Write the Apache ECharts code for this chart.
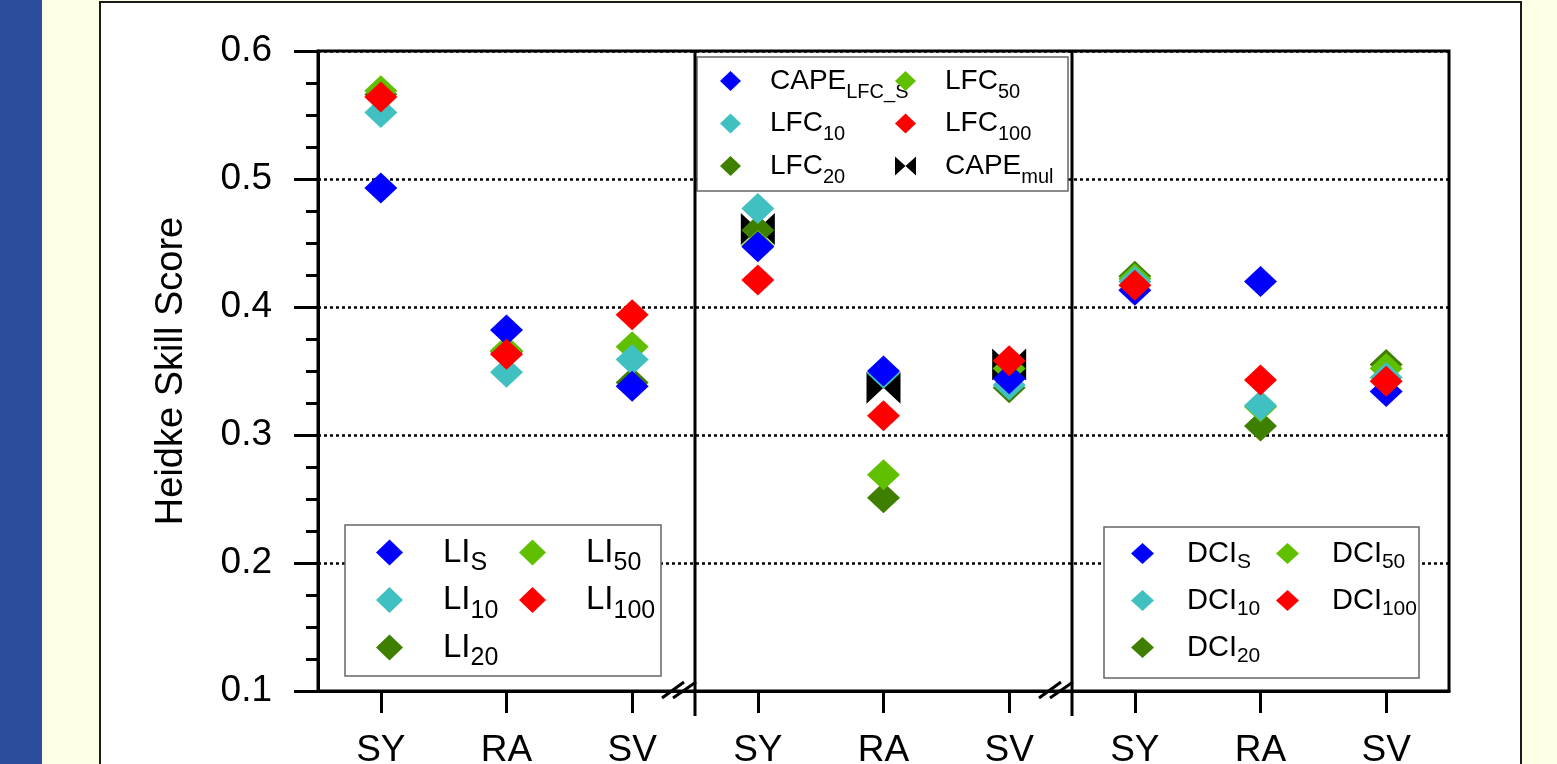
<!DOCTYPE html>
<html><head><meta charset="utf-8">
<script src="https://cdn.jsdelivr.net/npm/echarts@6/dist/echarts.min.js"></script>
<style>
html,body{margin:0;padding:0;width:1557px;height:764px;overflow:hidden;background:#FFFFE6;}
#bar{position:absolute;left:0;top:0;width:42px;height:764px;background:#2C4C9C;}
#panel{position:absolute;left:99px;top:1px;width:1419px;height:800px;background:#fff;border:2px solid #1a1a1a;}
#chart{position:absolute;left:0;top:0;width:1557px;height:764px;}
</style></head><body>
<div id="bar"></div><div id="panel"></div><div id="chart"></div>
<script>
// ---- data ----
const categories = ['SY', 'RA', 'SV'];
const groupNames = ['LI', 'LFC', 'DCI'];
const yMin = 0.1, yMax = 0.6, yStep = 0.1;
const yAxisName = 'Heidke Skill Score';

// LI group
const LI_S   = [0.493, 0.382, 0.338];
const LI_10  = [0.552, 0.349, 0.359];
const LI_20  = [0.566, 0.365, 0.341];
const LI_50  = [0.569, 0.366, 0.369];
const LI_100 = [0.564, 0.363, 0.394];
// LFC group
const CAPE_LFC_S = [0.447, 0.350, 0.344];
const LFC_10  = [0.477, 0.348, 0.339];
const LFC_20  = [0.460, 0.251, 0.337];
const LFC_50  = [0.448, 0.269, 0.352];
const LFC_100 = [0.421, 0.315, 0.358];
const CAPE_mul = [0.461, 0.337, 0.355];
// DCI group
const DCI_S   = [0.413, 0.420, 0.334];
const DCI_10  = [0.420, 0.323, 0.345];
const DCI_20  = [0.424, 0.307, 0.355];
const DCI_50  = [0.422, 0.322, 0.352];
const DCI_100 = [0.417, 0.343, 0.342];

// ---- styles ----
const C = { S: '#0000FF', d10: '#41C0C2', d20: '#3F7F00', d50: '#60C000', d100: '#FF0000', mul: '#000000' };
const FONT = 'Liberation Sans, Arial, sans-serif';
const bowtie = 'path://M0,0L0,32L17,16ZM34,0L34,32L17,16Z';
const bowtieIcon = 'path://M0,0L0,18L10,9ZM20,0L20,18L10,9Z';

// drawing order (later = on top)
const seriesDefs = [
  { name: 'CAPE_mul', g: 1, v: CAPE_mul, c: C.mul, sym: bowtie, size: [34, 32] },
  { name: 'LI_20', g: 0, v: LI_20, c: C.d20 },
  { name: 'LFC_20', g: 1, v: LFC_20, c: C.d20 },
  { name: 'DCI_20', g: 2, v: DCI_20, c: C.d20 },
  { name: 'LI_50', g: 0, v: LI_50, c: C.d50 },
  { name: 'LFC_50', g: 1, v: LFC_50, c: C.d50 },
  { name: 'DCI_50', g: 2, v: DCI_50, c: C.d50 },
  { name: 'LI_10', g: 0, v: LI_10, c: C.d10 },
  { name: 'LFC_10', g: 1, v: LFC_10, c: C.d10 },
  { name: 'DCI_10', g: 2, v: DCI_10, c: C.d10 },
  { name: 'LI_S', g: 0, v: LI_S, c: C.S },
  { name: 'CAPE_LFC_S', g: 1, v: CAPE_LFC_S, c: C.S },
  { name: 'DCI_S', g: 2, v: DCI_S, c: C.S },
  { name: 'LI_100', g: 0, v: LI_100, c: C.d100 },
  { name: 'LFC_100', g: 1, v: LFC_100, c: C.d100 },
  { name: 'DCI_100', g: 2, v: DCI_100, c: C.d100 }
];

const nCat = categories.length;
const xLabels = [];
groupNames.forEach(() => categories.forEach(c => xLabels.push(c)));
const boundaries = [];
for (let g = 1; g < groupNames.length; g++) boundaries.push(g * nCat);

const series = seriesDefs.map(d => ({
  name: d.name,
  type: 'scatter',
  xAxisIndex: 0, yAxisIndex: 0,
  symbol: d.sym || 'diamond',
  symbolSize: d.size || [33, 31],
  symbolKeepAspect: false,
  itemStyle: { color: d.c, opacity: 1 },
  emphasis: { disabled: true },
  z: 2,
  data: d.v.map((val, i) => [d.g * nCat + i, val])
}));

series.push({
  type: 'custom',
  xAxisIndex: 1, yAxisIndex: 0,
  silent: true, z: 3,
  data: boundaries.map(b => [b, yMin]),
  renderItem: function (params, api) {
    const b = api.value(0);
    const top = api.coord([b, yMax]);
    const bot = api.coord([b, yMin]);
    const x = bot[0], ay = bot[1];
    const st = { stroke: '#000', lineWidth: 3 };
    return { type: 'group', children: [
      { type: 'line', shape: { x1: x, y1: top[1], x2: x, y2: ay + 25 }, style: st },
      { type: 'line', shape: { x1: x - 33, y1: ay + 7, x2: x - 11, y2: ay - 9 }, style: st },
      { type: 'line', shape: { x1: x - 22, y1: ay + 7, x2: x + 1, y2: ay - 9 }, style: st }
    ]};
  }
});

function fmt(name) {
  const k = name.indexOf('_');
  return '{sp| }{m|' + name.slice(0, k) + '}{s|' + name.slice(k + 1) + '}';
}
function legend(names, left, top, iw, ih, gap, sp, mf, sf, pad) {
  return {
    orient: 'vertical', left: left, top: top, padding: 0,
    itemWidth: iw, itemHeight: ih, itemGap: gap,
    selectedMode: false,
    data: names.map(n => ({ name: n, icon: n === 'CAPE_mul' ? bowtieIcon : 'diamond' })),
    formatter: fmt,
    textStyle: {
      color: '#000', fontFamily: FONT,
      rich: {
        sp: { width: sp, fontSize: mf, fontFamily: FONT },
        m: { fontSize: mf, color: '#000', fontFamily: FONT },
        s: { fontSize: sf, padding: [pad, 0, 0, 0], color: '#000', fontFamily: FONT }
      }
    }
  };
}

const legends = [
  legend(['LI_S', 'LI_10', 'LI_20'], 376, 536, 27, 26, 7.5, 35, 33, 25, 22),
  legend(['LI_50', 'LI_100'], 519, 536, 27, 26, 7.5, 35, 33, 25, 22),
  legend(['CAPE_LFC_S', 'LFC_10', 'LFC_20'], 720, 67, 21, 20, 7.5, 24, 28, 20, 22),
  legend(['LFC_50', 'LFC_100', 'CAPE_mul'], 895, 67, 21, 20, 7.5, 24, 28, 20, 22),
  legend(['DCI_S', 'DCI_10', 'DCI_20'], 1131, 539, 23, 21, 13, 28, 29, 21, 18),
  legend(['DCI_50', 'DCI_100'], 1276, 539, 23, 21, 13, 28, 29, 21, 18)
];

const boxStyle = { fill: '#fff', stroke: '#666', lineWidth: 1.5 };
const graphic = [
  { type: 'rect', z: 1, shape: { x: 345, y: 525, width: 316, height: 151 }, style: boxStyle },
  { type: 'rect', z: 1, shape: { x: 697, y: 57, width: 371, height: 134 }, style: boxStyle },
  { type: 'rect', z: 1, shape: { x: 1104, y: 527, width: 315, height: 151 }, style: boxStyle }
];

const chart = echarts.init(document.getElementById('chart'), null, { renderer: 'canvas' });
chart.setOption({
  animation: false,
  backgroundColor: 'transparent',
  textStyle: { fontFamily: FONT },
  grid: { left: 318, right: 108, top: 51, bottom: 73, show: true, borderColor: '#000', borderWidth: 3,
          backgroundColor: 'transparent', containLabel: false, outerBoundsMode: 'none' },
  xAxis: [
    {
      type: 'category', data: xLabels, boundaryGap: true, position: 'bottom',
      axisLine: { show: true, lineStyle: { color: '#000', width: 3 } },
      axisTick: { show: true, alignWithLabel: true, length: 22, lineStyle: { color: '#000', width: 3 } },
      axisLabel: { fontSize: 37, color: '#000', margin: 41, fontFamily: FONT, interval: 0 },
      splitLine: { show: false }
    },
    { type: 'value', min: 0, max: groupNames.length * nCat, show: false }
  ],
  yAxis: {
    type: 'value', min: yMin, max: yMax, interval: yStep,
    name: yAxisName, nameLocation: 'middle', nameRotate: 90, nameGap: 127,
    nameTextStyle: { fontSize: 38, color: '#000', fontFamily: FONT },
    axisLine: { show: true, lineStyle: { color: '#000', width: 3 } },
    axisTick: { show: true, length: 24, lineStyle: { color: '#000', width: 3 } },
    minorTick: { show: true, splitNumber: 4, length: 12, lineStyle: { color: '#000', width: 3 } },
    axisLabel: { fontSize: 37, color: '#000', margin: 46, fontFamily: FONT },
    splitLine: { show: true, lineStyle: { color: '#000', width: 2.5, type: [3, 3] } }
  },
  legend: legends,
  graphic: graphic,
  series: series
});
</script>
</body></html>
